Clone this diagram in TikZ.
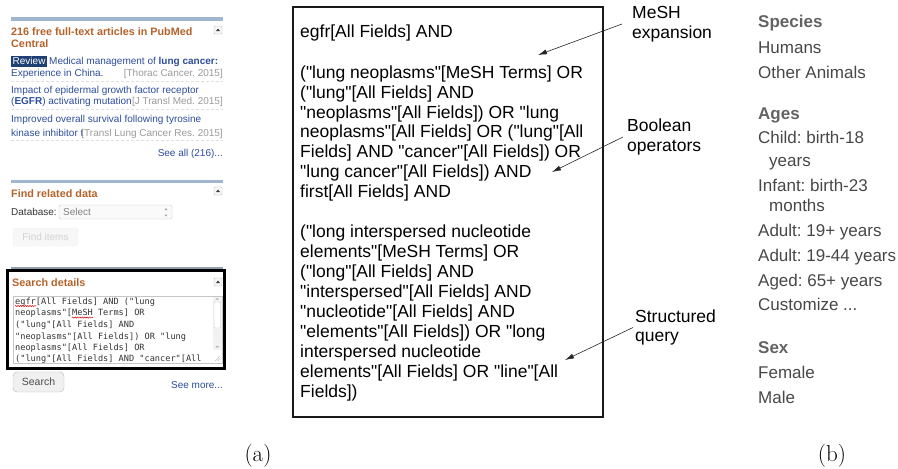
\documentclass[tikz,border=0pt]{standalone}
\usepackage{fontspec}
\newfontfamily\arial{Liberation Sans}
\newfontfamily\monofnt{DejaVu Sans Mono}
\usetikzlibrary{arrows.meta,decorations.pathmorphing}

\definecolor{hdrorange}{HTML}{B5622A}
\definecolor{linkblue}{HTML}{2C4C9C}
\definecolor{reviewbg}{HTML}{1D3F74}
\definecolor{citegray}{HTML}{9A9A9A}
\definecolor{barblue}{HTML}{9FB6CE}
\definecolor{filtertxt}{HTML}{474747}
\definecolor{filterhdr}{HTML}{636363}

\tikzset{
  small/.style={anchor=base west, inner sep=0pt, font=\arial\fontsize{10}{12}\selectfont},
  smallr/.style={small, anchor=base east},
  boxhdr/.style={small, font=\arial\bfseries\fontsize{10.8}{12}\selectfont, text=hdrorange},
  collapse/.style={draw=gray!55, fill=gray!6, rounded corners=1pt},
  monoline/.style={anchor=base west, inner sep=0pt, text=black!80,
    font=\monofnt\fontsize{8.6}{10}\selectfont},
  qline/.style={anchor=base west, inner sep=0pt, font=\arial\fontsize{17.5}{20}\selectfont},
  note/.style={anchor=west, inner sep=0pt, align=left,
    font=\arial\fontsize{17.5}{19.5}\selectfont},
  notearrow/.style={-{Latex[length=9pt,width=5pt]}, line width=0.6pt, black!85},
  fitem/.style={anchor=base west, inner sep=0pt, text=filtertxt,
    font=\arial\fontsize{17}{20}\selectfont},
  fhead/.style={fitem, text=filterhdr, font=\arial\bfseries\fontsize{17}{20}\selectfont},
  caption/.style={inner sep=0pt, font=\fontsize{23}{27}\selectfont},
  squiggle/.style={red!85!black, line width=0.5pt, decorate,
    decoration={snake, amplitude=0.6pt, segment length=2.4pt}},
}

\newcommand\collapsebtn[2]{%
  \draw[collapse] (#1-4,#2-4) rectangle (#1+4,#2+4);
  \fill[black!75] (#1-2,#2+1) -- (#1+2,#2+1) -- (#1,#2-1.5) -- cycle;}

\begin{document}
\frenchspacing
\begin{tikzpicture}[x=1pt,y=-1pt]
\useasboundingbox (0,0) rectangle (898,469);

% ---------------- left panel: free full-text articles ----------------
\fill[barblue] (11,17) rectangle (223,20.5);
\node[boxhdr] (pmchead) at (11,35.5) {216 free full-text articles in PubMed};
\node[boxhdr] (pmchead2) at (11,47) {Central};
\collapsebtn{218}{30}

\fill[reviewbg] (11,55.5) rectangle (46.5,66.5);
\node[small, text=white] (review) at (12.5,64.5) {Review};
\node[small, text=linkblue] (art1a) at (49,64.5) {Medical management of \textbf{lung cancer:}};
\node[small, text=linkblue] (art1b) at (11,76.5) {Experience in China.};
\node[smallr, text=citegray] (cit1) at (223,76.5) {[Thorac Cancer. 2015]};
\draw[gray!25, dash pattern=on 3pt off 2pt] (11,81) -- (223,81);

\node[small, text=linkblue] (art2a) at (11,93.5) {Impact of epidermal growth factor receptor};
\node[small, text=linkblue] (art2b) at (11,104.5) {(\textbf{EGFR}) activating mutation};
\node[smallr, text=citegray] (cit2) at (223,104.5) {[J Transl Med. 2015]};
\draw[gray!25, dash pattern=on 3pt off 2pt] (11,109) -- (223,109);

\node[small, text=linkblue] (art3a) at (11,122.5) {Improved overall survival following tyrosine};
\node[small, text=linkblue] (art3b) at (11,136.5) {kinase inhibitor t};
\node[smallr, text=citegray] (cit3) at (223,136.5) {[Transl Lung Cancer Res. 2015]};
\draw[gray!25, dash pattern=on 3pt off 2pt] (11,140.5) -- (223,140.5);

\node[smallr, text=linkblue] (seeall) at (223,156.5) {See all (216)...};

% ---------------- left panel: find related data ----------------
\fill[barblue] (11,179.5) rectangle (223,183);
\node[boxhdr] (findhead) at (11,197) {Find related data};
\collapsebtn{218}{191}
\node[small, text=black!80] (dblabel) at (11,215.5) {Database:};
\draw[gray!45, fill=gray!4, rounded corners=2pt] (59,205) rectangle (172,219);
\node[small, text=gray] (select) at (63,215.5) {Select};
\fill[gray!70] (164.5,210) -- (167.5,210) -- (166,208) -- cycle;
\fill[gray!70] (164.5,214.5) -- (167.5,214.5) -- (166,216.5) -- cycle;
\draw[gray!12, fill=gray!6, rounded corners=3pt] (13,228) rectangle (78,246);
\node[inner sep=0pt, text=gray!35, font=\arial\fontsize{10}{12}\selectfont] (finditems) at (45.5,237) {Find items};
\draw[gray!45!barblue, line width=1.2pt] (11,268) -- (223,268);

% ---------------- left panel: search details ----------------
\node[boxhdr] (sdhead) at (12,286) {Search details};
\collapsebtn{218}{282}
\draw[gray!45, fill=white] (13,296) rectangle (222,363);
\fill[gray!10] (213,296.5) rectangle (221.5,350);
\draw[gray!40, fill=white, rounded corners=1pt] (214,302) rectangle (220.5,328);
\fill[gray!60] (215.5,299.5) -- (219,299.5) -- (217.25,297.8) -- cycle;
\fill[gray!60] (215.5,346) -- (219,346) -- (217.25,347.8) -- cycle;
\draw[gray!50, line width=0.4pt] (215,361) -- (220,356) (217.5,361) -- (220,358.5);
\node[monoline] (m1) at (15,304) {egfr[All Fields] AND ("lung};
\node[monoline] (m2) at (15,315.5) {neoplasms"[MeSH Terms] OR};
\node[monoline] (m3) at (15,327) {("lung"[All Fields] AND};
\node[monoline] (m4) at (15,339) {"neoplasms"[All Fields]) OR "lung};
\node[monoline] (m5) at (15,350.5) {neoplasms"[All Fields] OR};
\node[monoline] (m6) at (15,361.5) {("lung"[All Fields] AND "cancer"[All};
\draw[squiggle] (15,306) -- (36,306);
\draw[squiggle] (72,317.5) -- (93,317.5);
\draw[black, line width=3pt] (7.5,270) rectangle (224,368);

\draw[gray!55, fill=gray!12, rounded corners=4pt] (13,372) rectangle (64,392);
\node[inner sep=0pt, text=black!70, font=\arial\fontsize{10.5}{12}\selectfont] (searchbtn) at (38.5,382) {Search};
\node[smallr, text=linkblue] (seemore) at (223,388) {See more...};

\node[caption] (capa) at (258,456) {(a)};

% ---------------- middle: structured query ----------------
\draw[black!90, line width=2.5pt] (293,7) rectangle (603,417);
\node[qline] (q1) at (300,37.5) {egfr[All Fields] AND};
\node[qline] (q2) at (300,78) {("lung neoplasms"[MeSH Terms] OR};
\node[qline] (q3) at (300,98) {("lung"[All Fields] AND};
\node[qline] (q4) at (300,118) {"neoplasms"[All Fields]) OR "lung};
\node[qline] (q5) at (300,137.5) {neoplasms"[All Fields] OR ("lung"[All};
\node[qline] (q6) at (300,157) {Fields] AND "cancer"[All Fields]) OR};
\node[qline] (q7) at (300,177) {"lung cancer"[All Fields]) AND};
\node[qline] (q8) at (300,197) {first[All Fields] AND};
\node[qline] (q9) at (300,237.5) {("long interspersed nucleotide};
\node[qline] (q10) at (300,257.5) {elements"[MeSH Terms] OR};
\node[qline] (q11) at (300,277.5) {("long"[All Fields] AND};
\node[qline] (q12) at (300,297.5) {"interspersed"[All Fields] AND};
\node[qline] (q13) at (300,317.5) {"nucleotide"[All Fields] AND};
\node[qline] (q14) at (300,337.5) {"elements"[All Fields]) OR "long};
\node[qline] (q15) at (300,357.5) {interspersed nucleotide};
\node[qline] (q16) at (300,377.5) {elements"[All Fields] OR "line"[All};
\node[qline] (q17) at (300,397.5) {Fields])};

% annotations
\node[note] (mesh) at (632,24) {MeSH\\expansion};
\node[note] (bool) at (627,137) {Boolean\\operators};
\node[note] (struct) at (635,327.5) {Structured\\query};
\coordinate (meshtip) at (538,55);
\coordinate (booltip) at (552,172);
\coordinate (structtip) at (565,360);
\draw[notearrow] ([xshift=-10pt]mesh.west) -- (meshtip);
\draw[notearrow] ([xshift=-4pt]bool.west) -- (booltip);
\draw[notearrow] ([xshift=-2pt]struct.west) -- (structtip);

% ---------------- right panel: filters ----------------
\node[fhead] (species) at (758,27) {Species};
\node[fitem] (humans) at (758,53) {Humans};
\node[fitem] (animals) at (758,78) {Other Animals};
\node[fhead] (ages) at (758,119) {Ages};
\node[fitem] (child) at (758,143) {Child: birth-18};
\node[fitem] (childb) at (769,166) {years};
\node[fitem] (infant) at (758,191) {Infant: birth-23};
\node[fitem] (infantb) at (769,211) {months};
\node[fitem] (adult) at (758,236) {Adult: 19+ years};
\node[fitem] (adultb) at (758,261) {Adult: 19-44 years};
\node[fitem] (aged) at (758,286) {Aged: 65+ years};
\node[fitem] (custom) at (758,310) {Customize ...};
\node[fhead] (sex) at (758,353) {Sex};
\node[fitem] (female) at (758,378) {Female};
\node[fitem] (male) at (758,403) {Male};

\node[caption] (capb) at (832,456) {(b)};
\end{tikzpicture}
\end{document}
